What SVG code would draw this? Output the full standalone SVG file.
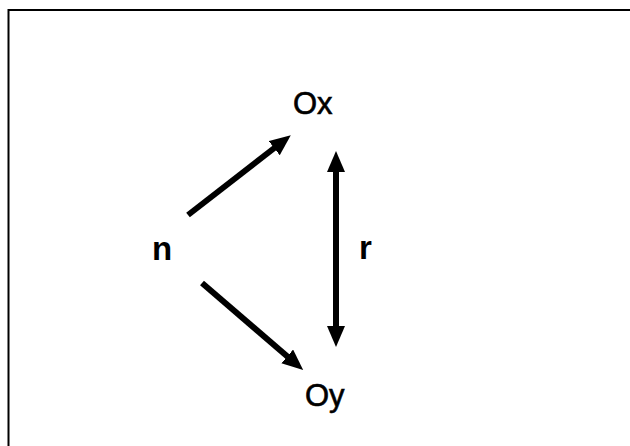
<svg xmlns="http://www.w3.org/2000/svg" width="630" height="446" viewBox="0 0 630 446">
<style>
.lbl{font-family:"Liberation Sans",Arial,sans-serif;fill:#000}
.b{font-weight:bold}
.edge{stroke:#000;stroke-width:6;fill:none}
</style>
<defs>
<marker id="ah" markerUnits="userSpaceOnUse" markerWidth="22" markerHeight="20" refX="1" refY="9" orient="auto-start-reverse">
<path d="M0,0 L21,9 L0,18 z" fill="#000"/>
</marker>
</defs>
<rect width="630" height="446" fill="#fff"/>
<path d="M8.5,446 L8.5,10 L630,10" fill="none" stroke="#000" stroke-width="2"/>
<g id="connectors">
<line class="edge" x1="188" y1="215" x2="275" y2="147.5" marker-end="url(#ah)"/>
<line class="edge" x1="202" y1="283" x2="288" y2="357" marker-end="url(#ah)"/>
<line class="edge" x1="336" y1="171" x2="336" y2="327" stroke-width="5" marker-start="url(#ah)" marker-end="url(#ah)"/>
</g>
<g id="node-Ox"><text class="lbl" x="293" y="114" font-size="31" stroke="#000" stroke-width="0.6">Ox</text></g>
<g id="node-Oy"><text class="lbl" x="305" y="406" font-size="31" stroke="#000" stroke-width="0.6">Oy</text></g>
<g id="node-n"><text class="lbl b" x="152" y="260" font-size="33">n</text></g>
<g id="node-r"><text class="lbl b" x="359" y="259" font-size="33">r</text></g>
</svg>
